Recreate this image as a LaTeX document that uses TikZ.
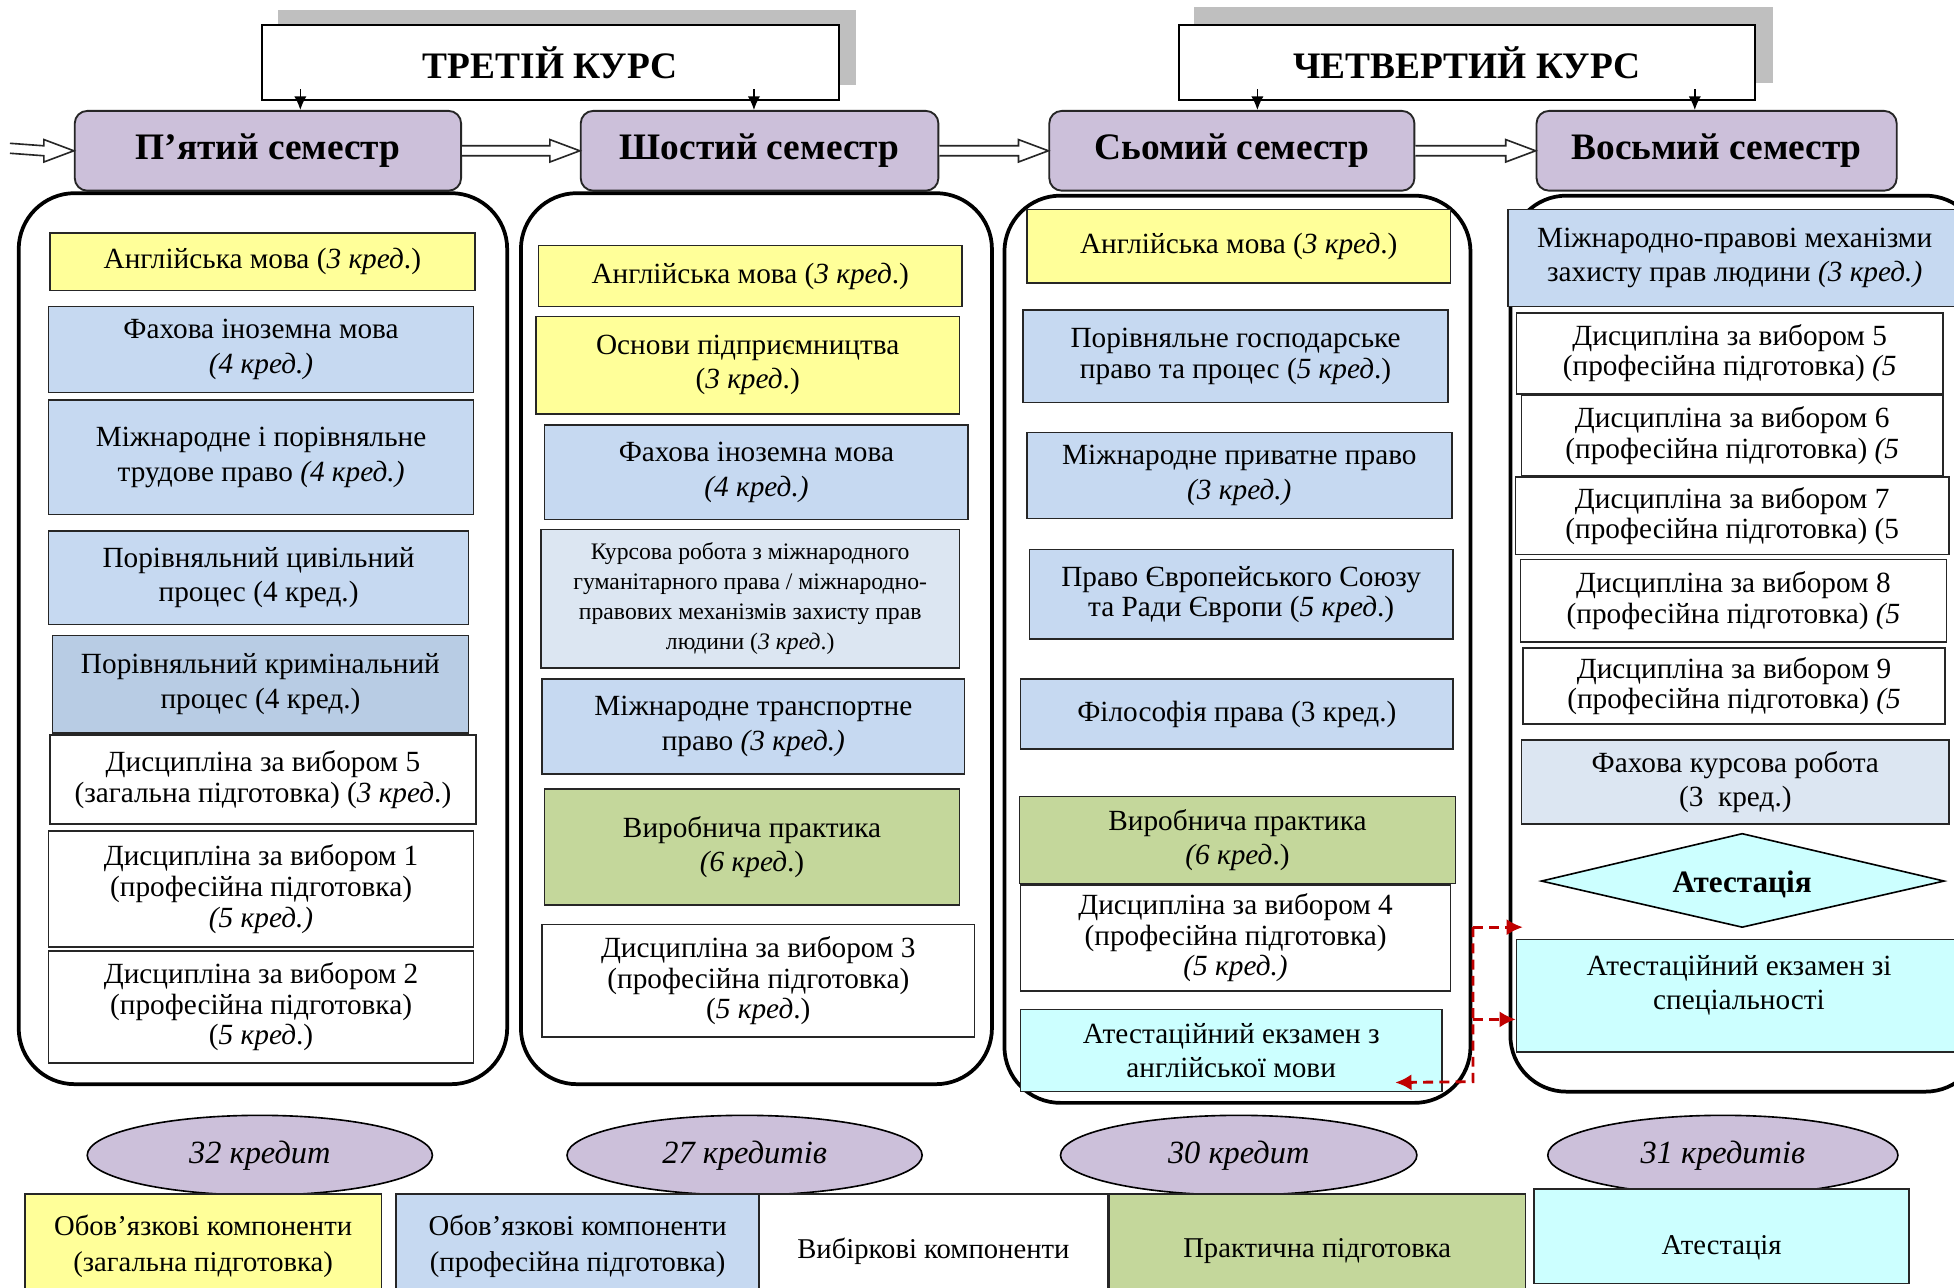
\documentclass[tikz,border=0pt]{standalone}
\usepackage{fontspec}
\setmainfont{Liberation Serif}
\usetikzlibrary{shapes.geometric,arrows.meta,calc}
\definecolor{cYel}{HTML}{FFFF99}
\definecolor{cBlue}{HTML}{C6D9F1}
\definecolor{cBlueB}{HTML}{B8CCE4}
\definecolor{cLB}{HTML}{DCE6F2}
\definecolor{cGreen}{HTML}{C4D79B}
\definecolor{cCyan}{HTML}{CCFFFF}
\definecolor{cLav}{HTML}{CCC0DA}
\definecolor{cShadow}{HTML}{BFBFBF}
\definecolor{lineC}{HTML}{262626}
\definecolor{cRed}{HTML}{C00000}
\newcommand\mkbox[7]{\node[bx,#2,minimum width={#5pt-#3pt},minimum height={#6pt-#4pt}] (#1) at ({(#3+#5)/2},{(#4+#6)/2}) {#7};}
\newcommand\blkarrow[2]{\draw[line width=1.3pt,draw=lineC,fill=white] ($(#1)+(0,-4)$) -- ($(#2)+(-24,-4)$) -- ($(#2)+(-24,-9)$) -- (#2) -- ($(#2)+(-24,9)$) -- ($(#2)+(-24,4)$) -- ($(#1)+(0,4)$);}
\tikzset{
  bx/.style={draw=lineC,line width=1.3pt,align=center,inner sep=0pt,font=\fontsize{23.5}{27.5}\selectfont},
  tight/.style={font=\fontsize{23.5}{24.5}\selectfont},
  small/.style={font=\fontsize{19}{24}\selectfont},
  yel/.style={fill=cYel},
  blue/.style={fill=cBlue},
  blueb/.style={fill=cBlueB},
  lb/.style={fill=cLB},
  green/.style={fill=cGreen},
  cyan/.style={fill=cCyan},
  white/.style={fill=white},
  course/.style={draw=black,fill=white,line width=1.5pt,font=\fontsize{30}{32}\selectfont\bfseries,inner sep=0pt},
  sem/.style={draw=lineC,fill=cLav,line width=1.5pt,rounded corners=10pt,font=\fontsize{30}{32}\selectfont\bfseries,inner sep=0pt,minimum height=64pt},
  contr/.style={draw=black,line width=3pt,rounded corners=45pt},
  darr/.style={draw=black,line width=1.3pt,-{Latex[length=11pt,width=10pt]}},
  ell/.style={ellipse,draw=black,fill=cLav,line width=1.3pt,minimum height=64pt,inner sep=0pt,font=\fontsize{26}{28}\selectfont\itshape},
  rd/.style={draw=cRed,dash pattern=on 8pt off 5pt,line width=2.3pt,-{Latex[length=13pt,width=13pt]}},
  leg/.style={draw=lineC,line width=1.3pt,align=center,inner sep=0pt,font=\fontsize{23}{29}\selectfont},
}
\begin{document}
\begin{tikzpicture}[x=1pt,y=-1pt]
\useasboundingbox (0,0) rectangle (1568,1033);
\clip (0,0) rectangle (1568,1033);
\fill[white] (0,0) rectangle (1568,1033);
% course headers
\fill[cShadow] (223,8) rectangle (687,68);
\node[course,minimum width=463pt,minimum height=60pt] (tk) at (441.5,50) {ТРЕТІЙ КУРС};
\fill[cShadow] (958,6) rectangle (1423,67);
\node[course,minimum width=462pt,minimum height=60pt] (chk) at (1177,50) {ЧЕТВЕРТИЙ КУРС};
% semesters
\node[sem,minimum width=310pt] (p5) at (215,121) {П’ятий семестр};
\node[sem,minimum width=287pt] (p6) at (609.5,121) {Шостий семестр};
\node[sem,minimum width=293pt] (p7) at (988.5,121) {Сьомий семестр};
\node[sem,minimum width=289pt] (p8) at (1377.5,121) {Восьмий семестр};
\draw[darr] ($(tk.south -| 241,0)+(0,-9)$) -- (p5.north -| 241,0);
\draw[darr] ($(tk.south -| 605,0)+(0,-9)$) -- (p6.north -| 605,0);
\draw[darr] ($(chk.south -| 1009,0)+(0,-9)$) -- (p7.north -| 1009,0);
\draw[darr] ($(chk.south -| 1360,0)+(0,-9)$) -- (p8.north -| 1360,0);
\coordinate (start) at (8,119);
\blkarrow{start}{p5.west}
\blkarrow{p5.east}{p6.west}
\blkarrow{p6.east}{p7.west}
\blkarrow{p7.east}{p8.west}
% containers
\draw[contr] (15,155) rectangle (407,870);
\draw[contr] (418,155) rectangle (796,870);
\draw[contr] (806,157) rectangle (1180,885);
\draw[contr] (1212,157) rectangle (1590,876);
% column 1
\mkbox{a1}{yel}{40}{187}{381}{233}{Англійська мова (\textit{3 кред}.)}
\mkbox{a2}{blue}{39}{246}{380}{315}{Фахова іноземна мова\\\textit{(4 кред.)}}
\mkbox{a3}{blue}{39}{321}{380}{413}{Міжнародне і порівняльне\\трудове право \textit{(4 кред.)}}
\mkbox{a4}{blue}{39}{426}{376}{501}{Порівняльний цивільний\\процес (4 кред.)}
\mkbox{a5}{blueb}{42}{510}{376}{588}{Порівняльний кримінальний\\процес (4 кред.)}
\mkbox{a6}{white,tight}{40}{590}{382}{661}{Дисципліна за вибором 5\\(загальна підготовка) (\textit{3 кред}.)}
\mkbox{a7}{white,tight}{39}{667}{380}{760}{Дисципліна за вибором 1\\(професійна підготовка)\\\textit{(5 кред.)}}
\mkbox{a8}{white,tight}{39}{763}{380}{853}{Дисципліна за вибором 2\\(професійна підготовка)\\(\textit{5 кред}.)}
% column 2
\mkbox{b1}{yel}{432}{197}{772}{246}{Англійська мова (\textit{3 кред}.)}
\mkbox{b2}{yel}{430}{254}{770}{332}{Основи підприємництва\\(\textit{3 кред}.)}
\mkbox{b3}{blue}{437}{341}{777}{417}{Фахова іноземна мова\\\textit{(4 кред.)}}
\mkbox{b4}{lb,small}{434}{425}{770}{536}{Курсова робота з міжнародного\\гуманітарного права / міжнародно-\\правових механізмів захисту прав\\людини (\textit{3 кред}.)}
\mkbox{b5}{blue}{435}{545}{774}{621}{Міжнародне транспортне\\право \textit{(3 кред.)}}
\mkbox{b6}{green}{437}{633}{770}{726}{Виробнича практика\\\textit{(6 кред}.)}
\mkbox{b7}{white,tight}{435}{742}{782}{832}{Дисципліна за вибором 3\\(професійна підготовка)\\(\textit{5 кред}.)}
% column 3
\mkbox{c1}{yel}{824}{168}{1164}{227}{Англійська мова (\textit{3 кред}.)}
\mkbox{c2}{blue,tight}{821}{249}{1162}{323}{Порівняльне господарське\\право та процес (\textit{5 кред}.)}
\mkbox{c3}{blue}{824}{347}{1165}{416}{Міжнародне приватне право\\\textit{(3 кред.)}}
\mkbox{c4}{blue,tight}{826}{441}{1166}{513}{Право Європейського Союзу\\та Ради Європи (\textit{5 кред}.)}
\mkbox{c5}{blue}{819}{545}{1166}{601}{Філософія права (3 кред.)}
\mkbox{c6}{green}{818}{639}{1168}{709}{Виробнича практика\\\textit{(6 кред}.)}
\mkbox{c7}{white,tight}{819}{710}{1164}{795}{Дисципліна за вибором 4\\(професійна підготовка)\\\textit{(5 кред.)}}
\mkbox{eng}{cyan}{819}{810}{1157}{876}{Атестаційний екзамен з\\англійської мови}
% column 4
\mkbox{d1}{blue}{1210}{168}{1574}{246}{Міжнародно-правові механізми\\захисту прав людини \textit{(3 кред.)}}
\mkbox{d2}{white,tight}{1217}{251}{1559}{316}{Дисципліна за вибором 5\\(професійна підготовка) \textit{(5}}
\mkbox{d3}{white,tight}{1221}{317}{1559}{382}{Дисципліна за вибором 6\\(професійна підготовка) \textit{(5}}
\mkbox{d4}{white,tight}{1216}{383}{1564}{445}{Дисципліна за вибором 7\\(професійна підготовка) (5}
\mkbox{d5}{white,tight}{1220}{449}{1562}{515}{Дисципліна за вибором 8\\(професійна підготовка) \textit{(5}}
\mkbox{d6}{white,tight}{1222}{520}{1561}{581}{Дисципліна за вибором 9\\(професійна підготовка) \textit{(5}}
\mkbox{d7}{lb}{1221}{594}{1564}{661}{Фахова курсова робота\\(3~~кред.)}
\draw[draw=black,fill=cCyan,line width=1.3pt] (1237,707) -- (1398,669) -- (1560,707) -- (1398,744) -- cycle;
\node[font=\fontsize{25}{27}\selectfont\bfseries,inner sep=0pt] (att) at (1398,710) {Атестація};
\mkbox{spec}{cyan,text depth=21pt}{1217}{754}{1574}{844}{Атестаційний екзамен зі\\спеціальності}
% red connectors
\coordinate (rj1) at (1182,744);
\coordinate (rt1) at (1222,744);
\coordinate (rj2) at (1182,818);
\coordinate (rj3) at (1182,868);
\draw[rd] (rj1) -- (rt1);
\draw[rd] (rj2) -- (spec.west |- rj2);
\draw[rd] (rj1) -- (rj3) -- ($(eng.south east)+(-38,-8)$);
% credits
\node[ell,minimum width=277pt] (e1) at (208.5,927) {32 кредит};
\node[ell,minimum width=285pt] (e2) at (597.5,927) {27 кредитів};
\node[ell,minimum width=286pt] (e3) at (994,927) {30 кредит};
\node[ell,minimum width=281pt] (e4) at (1382.5,927) {31 кредитів};
% legend
\node[leg,fill=cYel,minimum width=286pt,minimum height=84pt] (l1) at (163,1000) {Обов’язкові компоненти\\(загальна підготовка)};
\node[leg,fill=cBlue,minimum width=291pt,minimum height=84pt] (l2) at (463.5,1000) {Обов’язкові компоненти\\(професійна підготовка)};
\node[leg,fill=white,minimum width=280pt,minimum height=92pt] (l3) at (749,1004) {Вибіркові компоненти};
\node[leg,fill=cGreen,minimum width=334pt,minimum height=92pt] (l4) at (1057,1004) {Практична підготовка};
\node[leg,fill=cCyan,minimum width=301pt,minimum height=76pt,text height=30pt,text depth=0pt] (l5) at (1381.5,992) {Атестація};
\end{tikzpicture}
\end{document}
